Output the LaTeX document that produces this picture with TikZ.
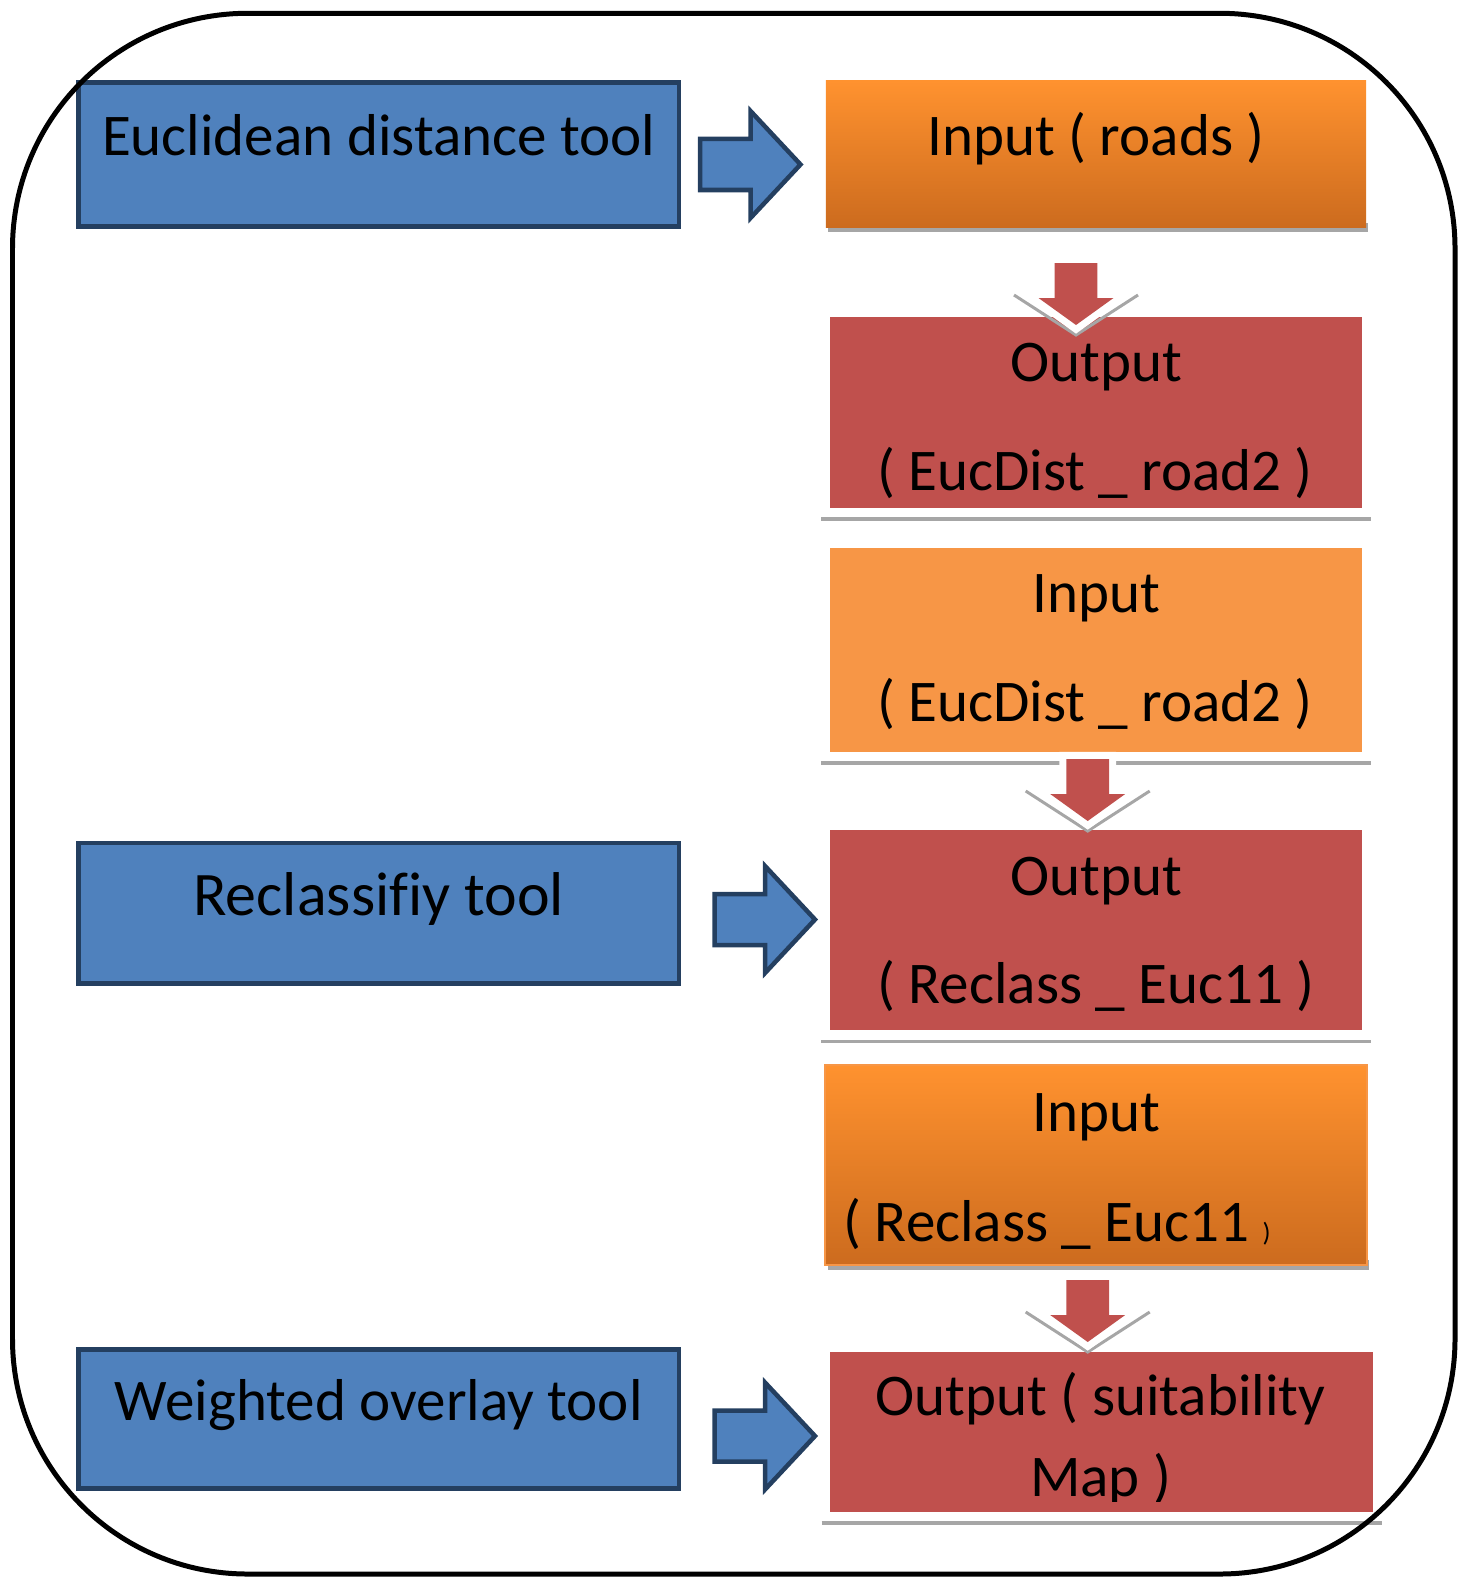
\documentclass[tikz,border=0pt]{standalone}
\usepackage{fontspec}
\setmainfont[Ligatures=NoCommon]{Carlito}
\definecolor{toolblue}{HTML}{4F81BD}
\definecolor{toolnavy}{HTML}{243F60}
\definecolor{outred}{HTML}{C0504D}
\definecolor{inorange}{HTML}{F79646}
\definecolor{gradtop}{HTML}{FF922F}
\definecolor{gradbot}{HTML}{CC6B1E}
\definecolor{shadegray}{HTML}{A6A6A6}
\newcommand{\bluearrow}[1]{%
  \draw[shift={(#1)}, fill=toolblue, draw=toolnavy, line width=1.28pt]
    (-100.5,-25.5) -- (-50,-25.5) -- (-50,-53.5) -- (0,0) -- (-50,53.5) -- (-50,25.5) -- (-100.5,25.5) -- cycle;}
\newcommand{\redarrowpath}{(-21.3,-62) -- (-21.3,-27) -- (-37.5,-27) -- (0,0) -- (37.5,-27) -- (21.3,-27) -- (21.3,-62) -- cycle}
\newcommand{\redarrow}[1]{%
  \draw[shift={(#1)}, shadegray, line width=.85pt] (-62,-30) -- (0,10) -- (62,-30);
  \draw[shift={(#1)}, fill=white, draw=white, line width=4pt, line join=miter] \redarrowpath;
  \fill[shift={(#1)}, outred] \redarrowpath;}
\tikzset{
  toolbox/.style={draw=toolnavy, fill=toolblue, line width=1.28pt, inner sep=0pt, minimum width=6cm},
  outbox/.style={fill=outred, inner sep=0pt},
  inbox/.style={fill=inorange, inner sep=0pt},
  gradbox/.style={top color=gradtop, bottom color=gradbot, inner sep=0pt},
  txt/.style={anchor=base, inner sep=0pt, font=\fontsize{16.8}{20}\selectfont}
}
\begin{document}
\begin{tikzpicture}[x=0.01cm, y=-0.01cm]
\useasboundingbox (0,0) rectangle (1466,1579);

\node[toolbox, minimum height=1.435cm] (euc) at (378.75,154.5) {};
\node[txt] (euct) at (378.75,156) {Euclidean distance tool};
\node[toolbox, minimum height=1.405cm] (rec) at (378.75,913.2) {};
\node[txt, font=\fontsize{17.6}{20}\selectfont] (rect) at (378.75,915) {Reclassifiy tool};
\node[toolbox, minimum height=1.39cm] (wov) at (378.75,1419) {};
\node[txt] (wovt) at (378.75,1420.5) {Weighted overlay tool};

\fill[shadegray] (828,223) rectangle (1368,231.7);
\node[gradbox, minimum width=5.4cm, minimum height=1.467cm] (in1) at (1096,154.35) {};
\node[txt] (in1t) at (1096,156) {Input ( roads )};

\node[outbox, minimum width=5.318cm, minimum height=1.91cm] (out1) at (1095.9,412.2) {};
\node[inbox, minimum width=5.318cm, minimum height=2.034cm] (in2) at (1095.9,650) {};
\node[outbox, minimum width=5.318cm, minimum height=2cm] (out2) at (1095.9,930) {};
\fill[shadegray] (828,1260) rectangle (1369,1270);
\node[gradbox, draw=inorange, line width=.7pt, minimum width=5.42cm, minimum height=2cm] (in3) at (1096,1165) {};
\node[outbox, minimum width=5.424cm, minimum height=1.6cm] (out3) at (1101.8,1431.7) {};
\foreach \b in {out1,in2,out2,out3}
  \draw[shadegray, line width=1pt] ([xshift=-0.08cm, yshift=-0.105cm]\b.south west) -- ([xshift=0.08cm, yshift=-0.105cm]\b.south east);

\node[txt] (out1a) at (1096,381.7) {Output};
\node[txt] (out1b) at (1095,490) {( EucDist \_ road2 )};
\node[txt] (in2a) at (1096,612.7) {Input};
\node[txt] (in2b) at (1095,721.7) {( EucDist \_ road2 )};
\node[txt] (out2a) at (1096,895) {Output};
\node[txt] (out2b) at (1096,1003) {( Reclass \_ Euc11 )};
\node[txt] (in3a) at (1096,1131.7) {Input};
\node[txt, anchor=base west] (in3b) at (843,1241.7) {( Reclass \_ Euc11 {\fontsize{7.5}{9}\selectfont )}};
\begin{scope}
\clip (800,1300) rectangle (1400,1501.7);
\node[txt] (out3a) at (1100.7,1415) {Output ( suitability};
\node[txt] (out3b) at (1100.7,1496.7) {Map )};
\end{scope}

\coordinate (a1) at (800.5,164.5);
\coordinate (a2) at (815,919.5);
\coordinate (a3) at (815,1436);
\bluearrow{a1}
\bluearrow{a2}
\bluearrow{a3}
\coordinate (d1) at (1076,325);
\coordinate (d2) at (1087.7,821);
\coordinate (d3) at (1087.7,1342);
\redarrow{d1}
\redarrow{d2}
\redarrow{d3}

\draw[line width=1.42pt, rounded corners=2.35cm] (12.5,13.3) rectangle (1455,1574);
\end{tikzpicture}
\end{document}
